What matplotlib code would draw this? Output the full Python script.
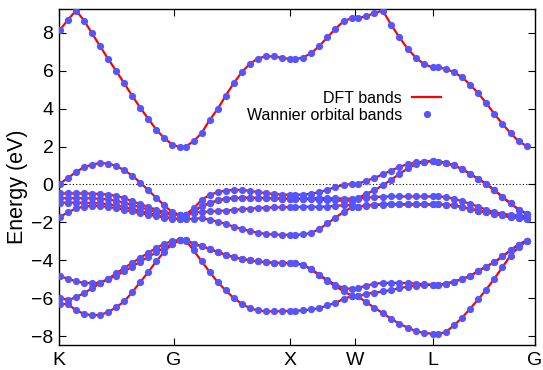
import numpy as np
import matplotlib
matplotlib.use("Agg")
import matplotlib.pyplot as plt

plt.rcParams['font.family'] = ['Liberation Sans', 'DejaVu Sans']

# ---- path (k) ----
tick_labels = ["K", "G", "X", "W", "L", "G"]
tick_pos = [0, 115, 231, 296, 374, 476]
# data segments along path: (start, end, number of k-points)
seg_start = [1.0, 126.7, 235.7, 298.7, 378.7]
seg_end = [121.3, 230.7, 292.7, 373.7, 467.7]
seg_npts = [16, 14, 8, 10, 12]

# ---- band energies (eV), segment by segment: K-G | G-X | X-W | W-L | L-G ----
b_top = [8.14, 8.68, 9.16, 8.63, 7.95, 7.28, 6.61, 5.98, 5.33, 4.67, 4.04, 3.46, 2.89, 2.44, 2.10, 1.96,
         2.00, 2.28, 2.72, 3.40, 3.98, 4.68, 5.33, 5.91, 6.35, 6.63, 6.75, 6.74, 6.67, 6.61,
         6.60, 6.68, 6.91, 7.28, 7.75, 8.19, 8.60, 8.76,
         8.76, 8.86, 9.02, 9.16, 8.42, 7.75, 7.14, 6.67, 6.32, 6.17,
         6.17, 6.09, 5.91, 5.65, 5.26, 4.81, 4.28, 3.72, 3.19, 2.70, 2.28, 2.02]
b_m1 = [0.05, 0.35, 0.66, 0.91, 1.05, 1.13, 1.10, 0.98, 0.75, 0.47, 0.10, -0.30, -0.70, -1.10, -1.46, -1.60,
        -1.58, -1.25, -0.80, -0.55, -0.40, -0.32, -0.28, -0.29, -0.33, -0.40, -0.45, -0.50, -0.53, -0.54,
        -0.54, -0.53, -0.49, -0.40, -0.28, -0.14, -0.02, 0.03,
        0.05, 0.18, 0.35, 0.53, 0.73, 0.93, 1.07, 1.16, 1.21, 1.23,
        1.21, 1.14, 1.00, 0.82, 0.56, 0.30, 0.03, -0.30, -0.65, -1.00, -1.32, -1.54]
b_m2 = [-0.47, -0.47, -0.47, -0.47, -0.48, -0.50, -0.53, -0.60, -0.72, -0.88, -1.03, -1.18, -1.33, -1.45, -1.53, -1.58,
        -1.60, -1.40, -1.15, -0.98, -0.84, -0.76, -0.72, -0.70, -0.70, -0.71, -0.72, -0.73, -0.74, -0.75,
        -0.75, -0.74, -0.73, -0.72, -0.72, -0.73, -0.74, -0.75,
        -0.72, -0.50, -0.30, -0.05, 0.25, 0.55, 0.85, 1.07, 1.19, 1.23,
        1.21, 1.14, 1.00, 0.82, 0.56, 0.30, 0.03, -0.30, -0.65, -1.00, -1.32, -1.54]
b_m3 = [-0.72, -0.72, -0.72, -0.72, -0.73, -0.75, -0.79, -0.86, -0.96, -1.08, -1.20, -1.32, -1.44, -1.54, -1.59, -1.60,
        -1.60, -1.40, -1.15, -0.98, -0.84, -0.76, -0.72, -0.70, -0.70, -0.71, -0.72, -0.73, -0.74, -0.75,
        -0.75, -0.76, -0.78, -0.80, -0.82, -0.84, -0.85, -0.85,
        -0.75, -0.70, -0.66, -0.64, -0.63, -0.63, -0.63, -0.63, -0.63, -0.63,
        -0.63, -0.66, -0.75, -0.88, -1.02, -1.16, -1.33, -1.46, -1.54, -1.60, -1.63, -1.68]
b_m4 = [-0.95, -0.95, -0.95, -0.96, -0.98, -1.00, -1.04, -1.10, -1.19, -1.29, -1.40, -1.51, -1.61, -1.70, -1.77, -1.82,
        -1.62, -1.48, -1.45, -1.42, -1.40, -1.37, -1.34, -1.30, -1.27, -1.24, -1.22, -1.21, -1.20, -1.19,
        -1.19, -1.17, -1.17, -1.18, -1.16, -1.12, -1.10, -1.08,
        -1.16, -1.10, -1.06, -1.05, -1.04, -1.04, -1.04, -1.04, -1.05, -1.05,
        -1.05, -1.07, -1.10, -1.18, -1.28, -1.37, -1.46, -1.54, -1.63, -1.72, -1.75, -1.81]
b_m5 = [-1.70, -1.46, -1.26, -1.16, -1.13, -1.14, -1.18, -1.25, -1.33, -1.42, -1.51, -1.59, -1.67, -1.74, -1.80, -1.83,
        -1.83, -1.80, -1.78, -1.85, -1.95, -2.08, -2.22, -2.34, -2.45, -2.54, -2.60, -2.63, -2.65, -2.65,
        -2.65, -2.63, -2.55, -2.35, -2.05, -1.75, -1.45, -1.20,
        -1.16, -1.12, -1.08, -1.06, -1.05, -1.05, -1.05, -1.05, -1.05, -1.05,
        -1.05, -1.07, -1.10, -1.18, -1.28, -1.37, -1.46, -1.54, -1.63, -1.72, -1.75, -1.81]
b_l1 = [-4.83, -4.96, -5.10, -5.18, -5.19, -5.18, -4.96, -4.68, -4.40, -4.12, -3.86, -3.60, -3.34, -3.12, -2.98, -2.90,
        -2.93, -3.12, -3.25, -3.39, -3.56, -3.70, -3.82, -3.91, -4.00, -4.05, -4.09, -4.12, -4.14, -4.14,
        -4.14, -4.23, -4.45, -4.74, -5.03, -5.28, -5.45, -5.50,
        -5.46, -5.32, -5.23, -5.18, -5.18, -5.18, -5.19, -5.22, -5.25, -5.28,
        -5.28, -5.23, -5.11, -4.98, -4.82, -4.56, -4.32, -4.09, -3.79, -3.47, -3.16, -2.95]
b_l2 = [-5.95, -6.10, -5.93, -5.72, -5.46, -5.20, -4.98, -4.80, -4.58, -4.32, -4.07, -3.82, -3.57, -3.33, -3.12, -2.92,
        -2.93, -3.12, -3.25, -3.39, -3.56, -3.70, -3.82, -3.91, -4.00, -4.05, -4.09, -4.12, -4.14, -4.14,
        -4.14, -4.23, -4.47, -4.77, -5.08, -5.36, -5.62, -5.85,
        -5.89, -5.75, -5.70, -5.63, -5.56, -5.46, -5.38, -5.33, -5.30, -5.28,
        -5.28, -5.23, -5.11, -4.98, -4.82, -4.56, -4.32, -4.09, -3.79, -3.47, -3.16, -2.95]
b_l3 = [-6.28, -6.30, -6.63, -6.81, -6.89, -6.86, -6.72, -6.46, -6.16, -5.67, -5.14, -4.61, -4.05, -3.53, -3.12, -2.94,
        -2.95, -3.47, -4.05, -4.61, -5.14, -5.58, -5.98, -6.28, -6.51, -6.63, -6.68, -6.68, -6.67, -6.65,
        -6.65, -6.63, -6.58, -6.51, -6.37, -6.23, -6.02, -5.88,
        -5.89, -6.19, -6.49, -6.77, -7.07, -7.33, -7.54, -7.72, -7.82, -7.86,
        -7.86, -7.77, -7.42, -7.02, -6.54, -6.05, -5.53, -4.96, -4.35, -3.74, -3.30, -2.98]

bands = [b_top, b_m1, b_m2, b_m3, b_m4, b_m5, b_l1, b_l2, b_l3]

kpts = np.concatenate([np.linspace(s, e, n) for s, e, n in zip(seg_start, seg_end, seg_npts)])

fig = plt.figure(figsize=(5.43, 3.70), dpi=100)
ax = fig.add_axes([0.1087, 0.0676, 0.8766, 0.9081])

red = '#ff0000'
blue = '#5555ff'
for i, b in enumerate(bands):
    ax.plot(kpts, b, color=red, lw=1.6, zorder=2, label='DFT bands' if i == 0 else None)
for i, b in enumerate(bands):
    ax.plot(kpts, b, ls='none', marker='o', ms=5.2, mfc=blue, mec=blue, mew=0,
            zorder=3, label='Wannier orbital bands' if i == 0 else None)

ax.axhline(0, color='black', lw=0.8, ls=(0, (1, 2)), zorder=1)

ax.set_xlim(tick_pos[0], tick_pos[-1])
ax.set_ylim(-8.45, 9.24)
ax.set_xticks(tick_pos)
ax.set_xticklabels(tick_labels)
ax.set_yticks(np.arange(-8, 9, 2))
ax.tick_params(direction='in', top=True, right=True, length=5, width=0.8,
               labelsize=14, pad=4)
ax.tick_params(axis='x', pad=5)
for s in ax.spines.values():
    s.set_linewidth(1.0)
ax.set_ylabel('Energy (eV)', fontsize=15.5)
ax.yaxis.set_label_coords(-0.066, 0.472)

leg = ax.legend(loc='center right', bbox_to_anchor=(0.839, 0.7116),
                bbox_transform=fig.transFigure, frameon=False, markerfirst=False,
                fontsize=11.5, handlelength=1.8, handletextpad=0.65, labelspacing=0.15,
                borderpad=0.4)

fig.savefig('out.png', dpi=100)
